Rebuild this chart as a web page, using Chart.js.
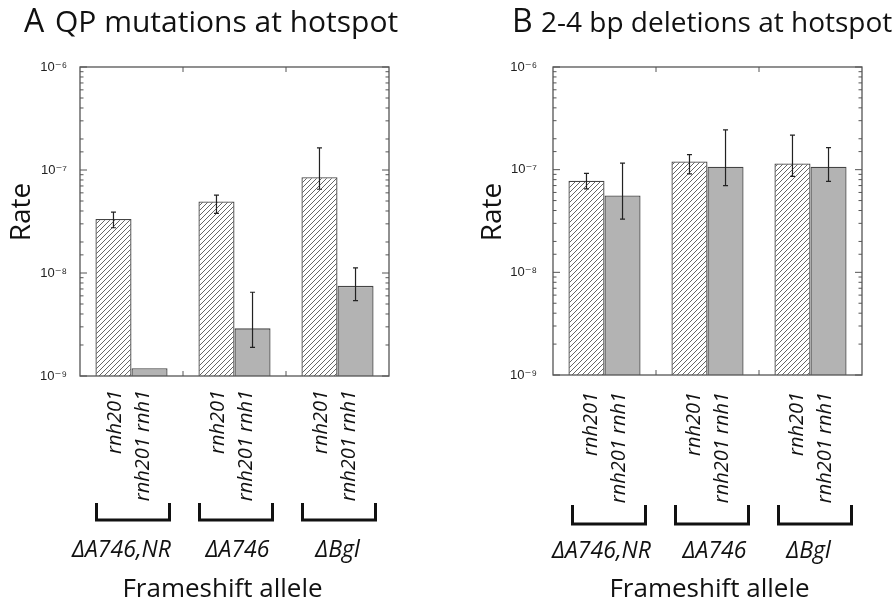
<!DOCTYPE html>
<html>
<head>
<meta charset="utf-8">
<script src="https://cdn.jsdelivr.net/npm/chart.js@4.4.1/dist/chart.umd.min.js"></script>
<style>
  html, body { margin: 0; padding: 0; background: #fff; }
  #wrap { position: relative; width: 894px; height: 605px; }
  .panel { position: absolute; top: 0; width: 447px; height: 605px; }
</style>
</head>
<body>
<div id="wrap">
  <div class="panel" style="left:0"><canvas id="chartA" width="447" height="605"></canvas></div>
  <div class="panel" style="left:447px"><canvas id="chartB" width="447" height="605"></canvas></div>
</div>
<script>
// ---- data ----
const groups = ['ΔA746,NR', 'ΔA746', 'ΔBgl'];
const strains = ['rnh201', 'rnh201 rnh1'];

// A: QP mutations at hotspot
const qpRnh201   = [3.35e-8, 4.95e-8, 8.5e-8];
const qpRnh201Lo = [2.75e-8, 3.8e-8, 6.5e-8];
const qpRnh201Hi = [3.9e-8, 5.7e-8, 1.64e-7];
const qpRnh1     = [1.19e-9, 2.9e-9, 7.5e-9];
const qpRnh1Lo   = [null, 1.9e-9, 5.4e-9];
const qpRnh1Hi   = [null, 6.5e-9, 1.12e-8];

// B: 2-4 bp deletions at hotspot
const delRnh201   = [7.8e-8, 1.2e-7, 1.15e-7];
const delRnh201Lo = [6.5e-8, 9.1e-8, 8.6e-8];
const delRnh201Hi = [9.2e-8, 1.4e-7, 2.17e-7];
const delRnh1     = [5.6e-8, 1.07e-7, 1.07e-7];
const delRnh1Lo   = [3.3e-8, 7.0e-8, 7.7e-8];
const delRnh1Hi   = [1.16e-7, 2.44e-7, 1.64e-7];

const yMin = 1e-9, yMax = 1e-6;

// ---- helpers ----
const SUP = {'-':'⁻','0':'⁰','1':'¹','2':'²','3':'³','4':'⁴','5':'⁵','6':'⁶','7':'⁷','8':'⁸','9':'⁹'};
function isDecade(v){
  const e = Math.log10(v);
  return Math.abs(e - Math.round(e)) < 1e-6;
}
function decadeLabel(v){
  if(!isDecade(v)) return '';
  const e = String(Math.round(Math.log10(v)));
  return '10' + e.split('').map(c => SUP[c]).join('');
}

function hatch(){
  const c = document.createElement('canvas');
  c.width = 5; c.height = 5;
  const g = c.getContext('2d');
  g.fillStyle = '#fff';
  g.fillRect(0,0,5,5);
  g.strokeStyle = '#555';
  g.lineWidth = 0.9;
  g.beginPath();
  g.moveTo(0,5); g.lineTo(5,0);
  g.moveTo(-1,1); g.lineTo(1,-1);
  g.moveTo(4,6); g.lineTo(6,4);
  g.stroke();
  return g.createPattern(c, 'repeat');
}

// font size so that text spans the given width
function fitFont(ctx, text, width){
  ctx.font = '100px "Open Sans"';
  return Math.min(30, 100 * width / ctx.measureText(text).width);
}

// ---- frame, ticks, error bars and labels ----
const decor = {
  id: 'decor',
  afterDatasetsDraw(chart, args, o){
    const ctx = chart.ctx;
    const a = chart.chartArea;
    const xs = chart.scales.x, ys = chart.scales.y;
    ctx.save();

    // error bars
    ctx.strokeStyle = '#222';
    ctx.lineWidth = 1.2;
    chart.data.datasets.forEach((ds, i) => {
      chart.getDatasetMeta(i).data.forEach((bar, j) => {
        if(ds.errLo[j] == null) return;
        const yl = ys.getPixelForValue(ds.errLo[j]);
        const yh = ys.getPixelForValue(ds.errHi[j]);
        ctx.beginPath();
        ctx.moveTo(bar.x, yl); ctx.lineTo(bar.x, yh);
        ctx.moveTo(bar.x - 2.5, yl); ctx.lineTo(bar.x + 2.5, yl);
        ctx.moveTo(bar.x - 2.5, yh); ctx.lineTo(bar.x + 2.5, yh);
        ctx.stroke();
      });
    });

    // frame
    ctx.strokeStyle = '#555';
    ctx.lineWidth = 1.3;
    ctx.strokeRect(a.left, a.top, a.right - a.left, a.bottom - a.top);

    // y ticks, inside on both sides
    ctx.lineWidth = 1;
    ys.ticks.forEach(t => {
      const py = ys.getPixelForValue(t.value);
      const len = isDecade(t.value) ? 7 : 3.5;
      ctx.beginPath();
      ctx.moveTo(a.left, py); ctx.lineTo(a.left + len, py);
      ctx.moveTo(a.right, py); ctx.lineTo(a.right - len, py);
      ctx.stroke();
    });

    // category boundary ticks top and bottom
    for(let j = 0; j < groups.length - 1; j++){
      const bx = (xs.getPixelForValue(j) + xs.getPixelForValue(j + 1)) / 2;
      ctx.beginPath();
      ctx.moveTo(bx, a.top); ctx.lineTo(bx, a.top + 5);
      ctx.moveTo(bx, a.bottom); ctx.lineTo(bx, a.bottom - 5);
      ctx.stroke();
    }

    // strain labels, rotated
    ctx.fillStyle = '#111';
    ctx.font = 'italic 20px "Open Sans"';
    ctx.textAlign = 'right';
    ctx.textBaseline = 'middle';
    chart.data.datasets.forEach((ds, i) => {
      chart.getDatasetMeta(i).data.forEach(bar => {
        ctx.save();
        ctx.translate(bar.x + o.labelDx[i], a.bottom + o.labelGap);
        ctx.rotate(-Math.PI / 2);
        ctx.fillText(ds.label, 0, 0);
        ctx.restore();
      });
    });

    // brackets and group names
    ctx.strokeStyle = '#111';
    ctx.lineWidth = 3;
    ctx.lineJoin = 'miter';
    ctx.font = 'italic 23px "Open Sans"';
    ctx.textAlign = 'center';
    ctx.textBaseline = 'alphabetic';
    groups.forEach((g, j) => {
      const cx = xs.getPixelForValue(j);
      const t = a.bottom + o.bracketTop, b = a.bottom + o.bracketBottom;
      ctx.beginPath();
      ctx.moveTo(cx + o.bracket[0], t);
      ctx.lineTo(cx + o.bracket[0], b);
      ctx.lineTo(cx + o.bracket[1], b);
      ctx.lineTo(cx + o.bracket[1], t);
      ctx.stroke();
      ctx.fillText(g, cx + o.groupDx[j], o.groupBase);
    });

    // x title
    ctx.font = '26px "Open Sans"';
    ctx.fillText('Frameshift allele', (a.left + a.right) / 2 + o.xTitleDx, 597);

    // y title
    ctx.save();
    ctx.translate(o.rateX, 212);
    ctx.rotate(-Math.PI / 2);
    ctx.textBaseline = 'middle';
    ctx.font = '28px "Open Sans"';
    ctx.fillText('Rate', 0, 0);
    ctx.restore();

    // panel title
    ctx.textAlign = 'left';
    ctx.font = '32px "Open Sans"';
    ctx.fillText(o.letter, o.titleX, 32);
    const fs = fitFont(ctx, o.title, o.titleEnd - o.titleX - o.titleGap);
    ctx.font = fs.toFixed(1) + 'px "Open Sans"';
    ctx.fillText(o.title, o.titleX + o.titleGap, 32);

    ctx.restore();
  }
};

function makeChart(id, v1, lo1, hi1, v2, lo2, hi2, panel){
  return new Chart(document.getElementById(id), {
    type: 'bar',
    data: {
      labels: groups,
      datasets: [
        { label: strains[0], data: v1, errLo: lo1, errHi: hi1,
          backgroundColor: hatch(), borderColor: '#444', borderWidth: 1.3 },
        { label: strains[1], data: v2, errLo: lo2, errHi: hi2,
          backgroundColor: '#b3b3b3', borderColor: '#444', borderWidth: 1.3 }
      ]
    },
    options: {
      responsive: false,
      animation: false,
      layout: { padding: panel.padding },
      datasets: { bar: { categoryPercentage: 0.7, barPercentage: 1.0 } },
      scales: {
        x: {
          type: 'category',
          ticks: { display: false },
          grid: { display: false, drawTicks: false },
          border: { display: false },
          afterFit: s => { s.height = panel.xHeight; }
        },
        y: {
          type: 'logarithmic',
          min: yMin, max: yMax,
          ticks: {
            autoSkip: false,
            padding: panel.tickPad,
            color: '#222',
            font: { family: '"Liberation Sans", "DejaVu Sans", sans-serif', size: 13 },
            callback: v => decadeLabel(v)
          },
          grid: { display: false, drawTicks: false },
          border: { display: false },
          afterFit: s => { s.width = panel.yWidth; }
        }
      },
      plugins: {
        legend: { display: false },
        tooltip: { enabled: false },
        decor: panel
      }
    },
    plugins: [decor]
  });
}

makeChart('chartA', qpRnh201, qpRnh201Lo, qpRnh201Hi, qpRnh1, qpRnh1Lo, qpRnh1Hi, {
  padding: { left: 0, top: 67, right: 58, bottom: 0 },
  xHeight: 229, yWidth: 80, tickPad: 13,
  labelDx: [2, -6], labelGap: 14,
  bracket: [-35, 38], bracketTop: 127, bracketBottom: 144,
  groupDx: [-10, 3, 0], groupBase: 557, xTitleDx: -12,
  rateX: 22, letter: 'A', titleX: 24, titleGap: 31, titleEnd: 398,
  title: 'QP mutations at hotspot'
});

makeChart('chartB', delRnh201, delRnh201Lo, delRnh201Hi, delRnh1, delRnh1Lo, delRnh1Hi, {
  padding: { left: 0, top: 67, right: 32, bottom: 0 },
  xHeight: 230, yWidth: 106, tickPad: 16,
  labelDx: [5, -3], labelGap: 17,
  bracket: [-32, 41], bracketTop: 130, bracketBottom: 149,
  groupDx: [-3, 7, -2], groupBase: 558, xTitleDx: 2,
  rateX: 46, letter: 'B', titleX: 65, titleGap: 29, titleEnd: 445,
  title: '2-4 bp deletions at hotspot'
});
</script>
</body>
</html>
